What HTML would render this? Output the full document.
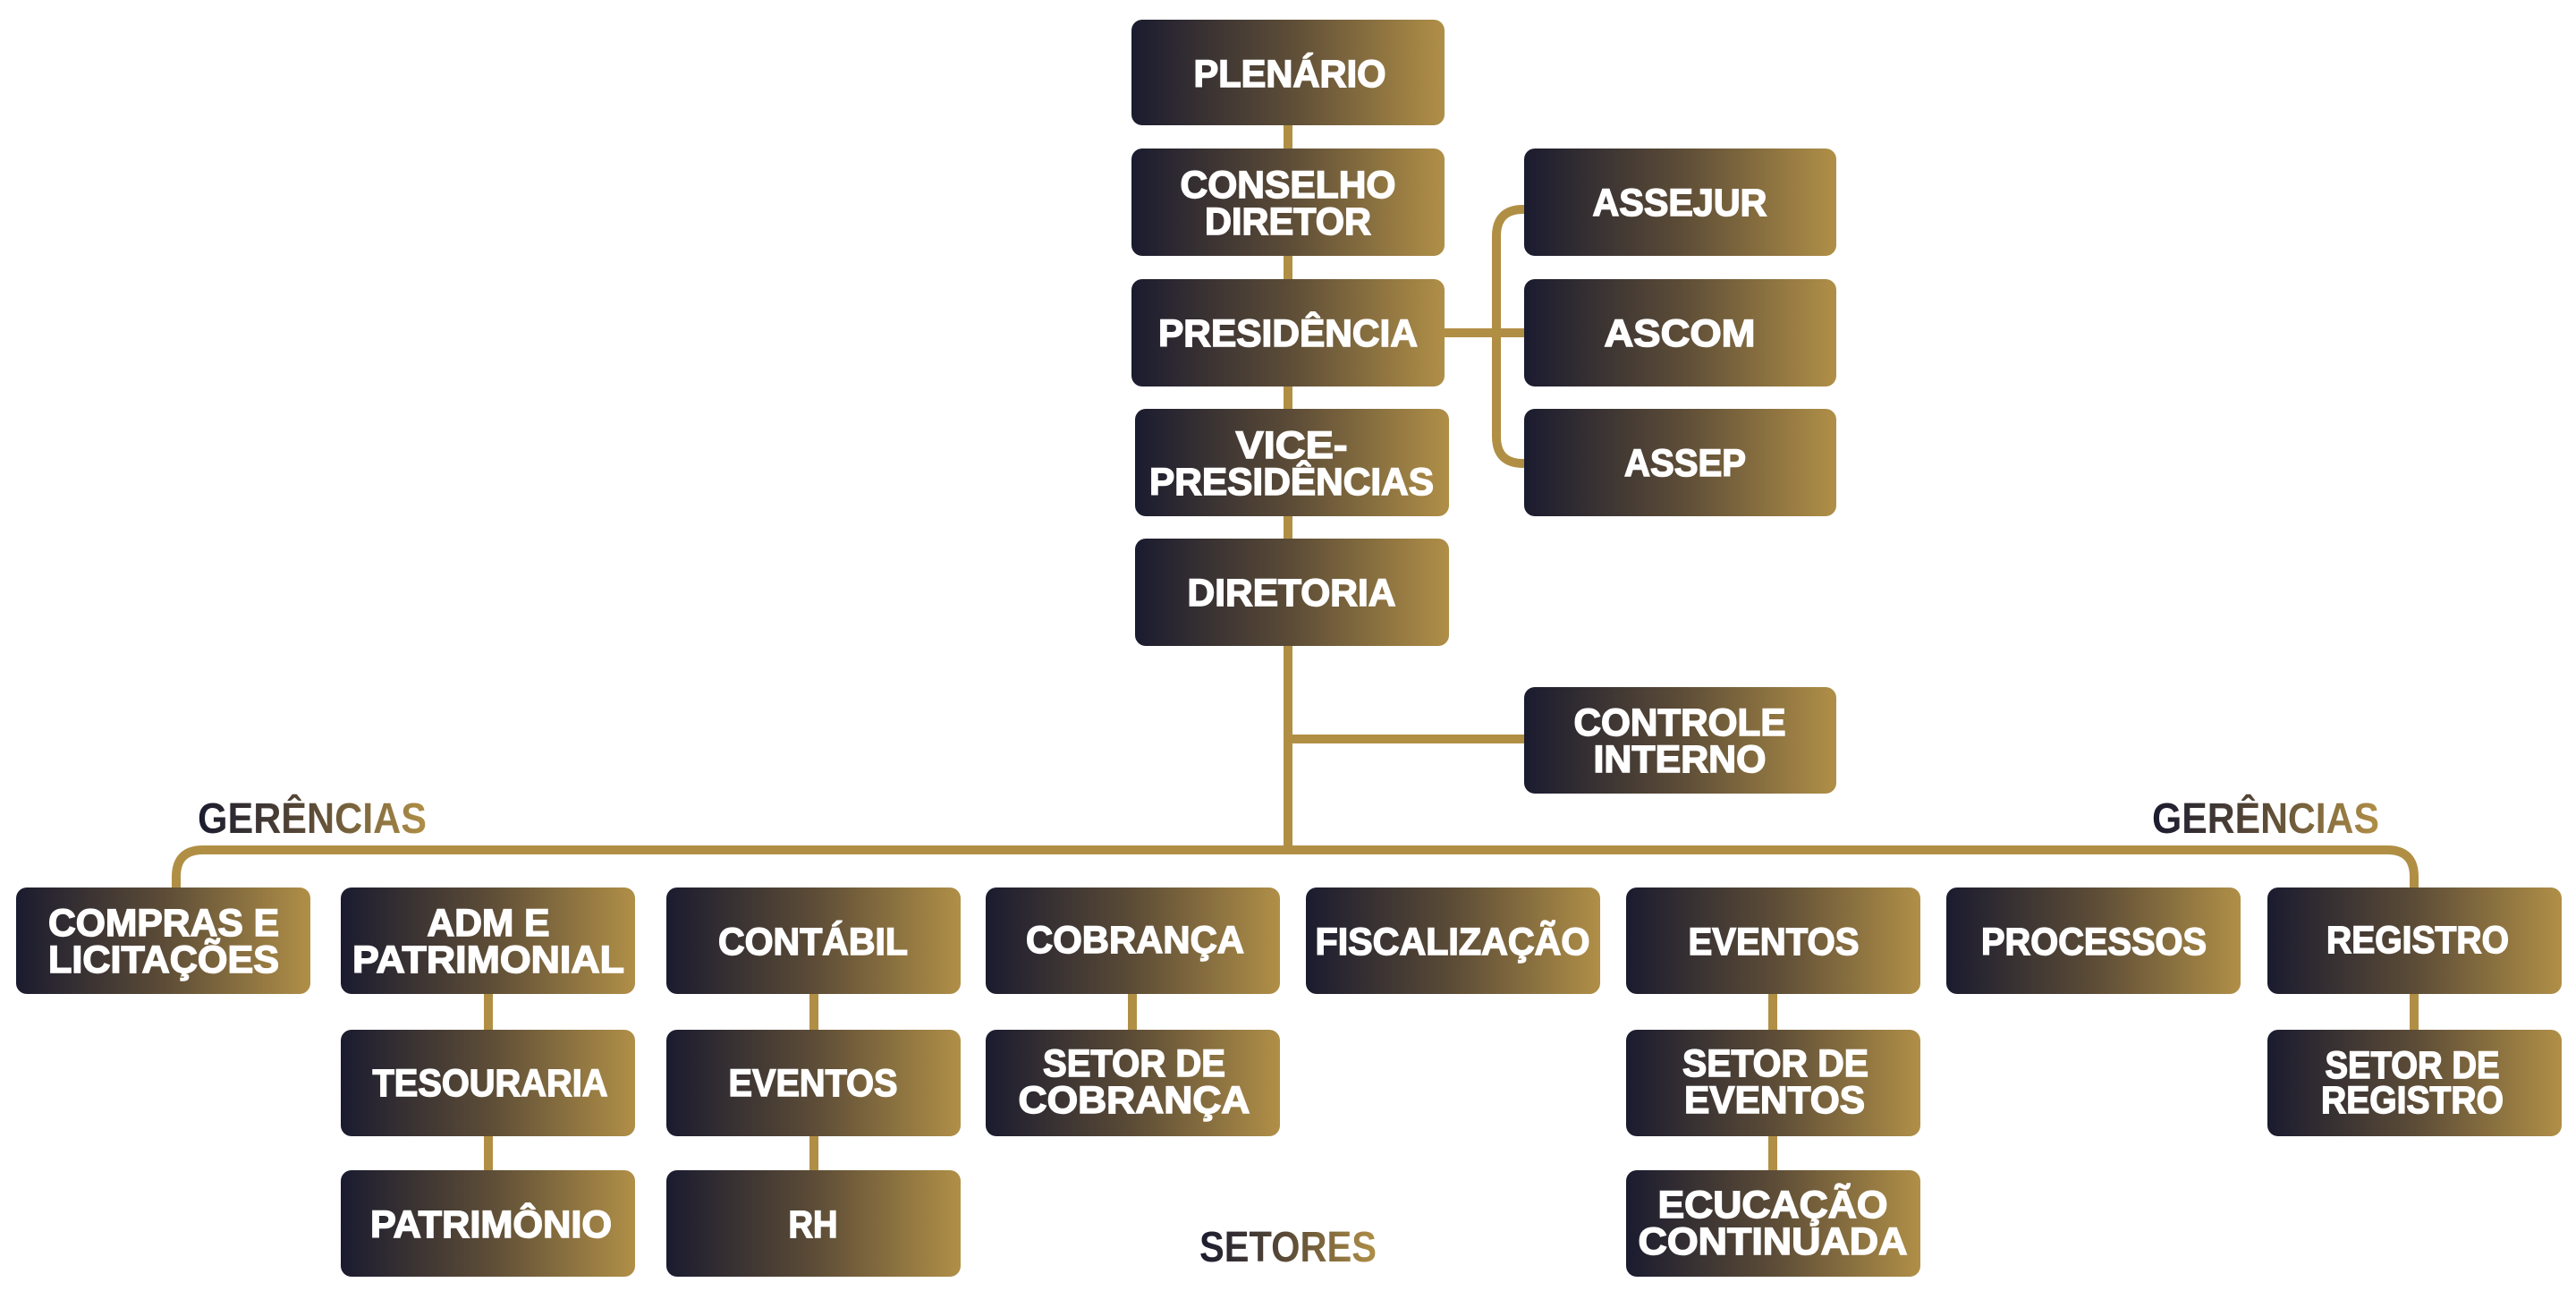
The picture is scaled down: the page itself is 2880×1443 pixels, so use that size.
<!DOCTYPE html>
<html><head><meta charset="utf-8"><style>html,body{margin:0;padding:0;background:#fff}svg{display:block}</style></head>
<body>
<svg width="2880" height="1443" viewBox="0 0 2880 1443" xmlns="http://www.w3.org/2000/svg">
<defs>
<linearGradient id="g" x1="0" y1="0" x2="1" y2="0"><stop offset="0" stop-color="#1a1b2f"/><stop offset="0.5" stop-color="#5c4c37"/><stop offset="1" stop-color="#b08f47"/></linearGradient>
</defs>
<g fill="none" stroke="#b08f45" stroke-width="10">
<line x1="1440" y1="130" x2="1440" y2="950"/>
<line x1="1610" y1="372" x2="1710" y2="372"/>
<path d="M1706 234 H1703 Q1673 234 1673 264 V488 Q1673 518 1703 518 H1706"/>
<line x1="1440" y1="826" x2="1710" y2="826"/>
<path d="M197 998 V980 Q197 950 227 950 H2669 Q2699 950 2699 980 V998"/>
<line x1="546" y1="1100" x2="546" y2="1315"/>
<line x1="910" y1="1100" x2="910" y2="1315"/>
<line x1="1266" y1="1100" x2="1266" y2="1160"/>
<line x1="1982" y1="1100" x2="1982" y2="1315"/>
<line x1="2699" y1="1100" x2="2699" y2="1160"/>
</g>
<g fill="url(#g)">
<rect x="1265" y="22" width="350" height="118" rx="12"/>
<rect x="1265" y="166" width="350" height="120" rx="12"/>
<rect x="1265" y="312" width="350" height="120" rx="12"/>
<rect x="1269" y="457" width="351" height="120" rx="12"/>
<rect x="1269" y="602" width="351" height="120" rx="12"/>
<rect x="1704" y="166" width="349" height="120" rx="12"/>
<rect x="1704" y="312" width="349" height="120" rx="12"/>
<rect x="1704" y="457" width="349" height="120" rx="12"/>
<rect x="1704" y="768" width="349" height="119" rx="12"/>
<rect x="18" y="992" width="329" height="119" rx="12"/>
<rect x="381" y="992" width="329" height="119" rx="12"/>
<rect x="745" y="992" width="329" height="119" rx="12"/>
<rect x="1102" y="992" width="329" height="119" rx="12"/>
<rect x="1460" y="992" width="329" height="119" rx="12"/>
<rect x="1818" y="992" width="329" height="119" rx="12"/>
<rect x="2176" y="992" width="329" height="119" rx="12"/>
<rect x="2535" y="992" width="329" height="119" rx="12"/>
<rect x="381" y="1151" width="329" height="119" rx="12"/>
<rect x="745" y="1151" width="329" height="119" rx="12"/>
<rect x="1102" y="1151" width="329" height="119" rx="12"/>
<rect x="1818" y="1151" width="329" height="119" rx="12"/>
<rect x="2535" y="1151" width="329" height="119" rx="12"/>
<rect x="381" y="1308" width="329" height="119" rx="12"/>
<rect x="745" y="1308" width="329" height="119" rx="12"/>
<rect x="1818" y="1308" width="329" height="119" rx="12"/>
</g>
<g fill="#fff" stroke="#fff" stroke-width="1.5" font-family="'Liberation Sans', sans-serif" font-weight="bold" font-size="43" text-anchor="middle">
<text x="1442" y="97" textLength="215" lengthAdjust="spacingAndGlyphs">PLENÁRIO</text>
<text x="1440" y="221" textLength="241" lengthAdjust="spacingAndGlyphs">CONSELHO</text>
<text x="1440" y="262" textLength="186" lengthAdjust="spacingAndGlyphs">DIRETOR</text>
<text x="1440" y="387" textLength="290" lengthAdjust="spacingAndGlyphs">PRESIDÊNCIA</text>
<text x="1444" y="512" textLength="125" lengthAdjust="spacingAndGlyphs">VICE-</text>
<text x="1444" y="553" textLength="318" lengthAdjust="spacingAndGlyphs">PRESIDÊNCIAS</text>
<text x="1444" y="677" textLength="233" lengthAdjust="spacingAndGlyphs">DIRETORIA</text>
<text x="1878" y="241" textLength="195" lengthAdjust="spacingAndGlyphs">ASSEJUR</text>
<text x="1878" y="387" textLength="169" lengthAdjust="spacingAndGlyphs">ASCOM</text>
<text x="1884" y="532" textLength="136" lengthAdjust="spacingAndGlyphs">ASSEP</text>
<text x="1878" y="822" textLength="237" lengthAdjust="spacingAndGlyphs">CONTROLE</text>
<text x="1878" y="863" textLength="193" lengthAdjust="spacingAndGlyphs">INTERNO</text>
<text x="183" y="1046" textLength="258" lengthAdjust="spacingAndGlyphs">COMPRAS E</text>
<text x="183" y="1087" textLength="258" lengthAdjust="spacingAndGlyphs">LICITAÇÕES</text>
<text x="546" y="1046" textLength="137" lengthAdjust="spacingAndGlyphs">ADM E</text>
<text x="546" y="1087" textLength="304" lengthAdjust="spacingAndGlyphs">PATRIMONIAL</text>
<text x="909" y="1067" textLength="212" lengthAdjust="spacingAndGlyphs">CONTÁBIL</text>
<text x="1269" y="1065" textLength="244" lengthAdjust="spacingAndGlyphs">COBRANÇA</text>
<text x="1624" y="1067" textLength="307" lengthAdjust="spacingAndGlyphs">FISCALIZAÇÃO</text>
<text x="1983" y="1067" textLength="191" lengthAdjust="spacingAndGlyphs">EVENTOS</text>
<text x="2341" y="1067" textLength="252" lengthAdjust="spacingAndGlyphs">PROCESSOS</text>
<text x="2703" y="1065" textLength="204" lengthAdjust="spacingAndGlyphs">REGISTRO</text>
<text x="548" y="1225" textLength="263" lengthAdjust="spacingAndGlyphs">TESOURARIA</text>
<text x="909" y="1225" textLength="189" lengthAdjust="spacingAndGlyphs">EVENTOS</text>
<text x="1268" y="1203" textLength="204" lengthAdjust="spacingAndGlyphs">SETOR DE</text>
<text x="1268" y="1244" textLength="259" lengthAdjust="spacingAndGlyphs">COBRANÇA</text>
<text x="1985" y="1203" textLength="208" lengthAdjust="spacingAndGlyphs">SETOR DE</text>
<text x="1984" y="1244" textLength="202" lengthAdjust="spacingAndGlyphs">EVENTOS</text>
<text x="2697" y="1205" textLength="195" lengthAdjust="spacingAndGlyphs">SETOR DE</text>
<text x="2697" y="1244" textLength="204" lengthAdjust="spacingAndGlyphs">REGISTRO</text>
<text x="549" y="1383" textLength="270" lengthAdjust="spacingAndGlyphs">PATRIMÔNIO</text>
<text x="909" y="1383" textLength="55" lengthAdjust="spacingAndGlyphs">RH</text>
<text x="1982" y="1361" textLength="257" lengthAdjust="spacingAndGlyphs">ECUCAÇÃO</text>
<text x="1982" y="1402" textLength="301" lengthAdjust="spacingAndGlyphs">CONTINUADA</text>
</g>
<g fill="url(#g)" font-family="'Liberation Sans', sans-serif" font-weight="bold" font-size="48">
<text x="221" y="931" textLength="256" lengthAdjust="spacingAndGlyphs">GERÊNCIAS</text>
<text x="2406" y="931" textLength="254" lengthAdjust="spacingAndGlyphs">GERÊNCIAS</text>
<text x="1341" y="1410" textLength="198" lengthAdjust="spacingAndGlyphs">SETORES</text>
</g>
</svg>
</body></html>
